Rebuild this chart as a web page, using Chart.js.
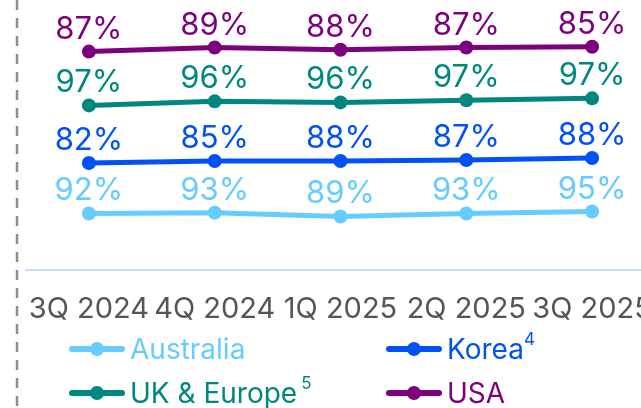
<!DOCTYPE html>
<html>
<head>
<meta charset="utf-8">
<script src="https://cdn.jsdelivr.net/npm/chart.js@4.4.1/dist/chart.umd.min.js"></script>
<style>
  html, body { margin: 0; padding: 0; background: #fff; }
  #wrap { position: relative; width: 641px; height: 408px; overflow: hidden; font-family: Inter, sans-serif; }
  #chart { position: absolute; left: 0; top: 0; }
  .item { position: absolute; display: flex; align-items: center; font-size: 28px; white-space: nowrap; }
  .mark { position: relative; width: 56px; height: 6px; border-radius: 3px; margin-right: 5px; }
  .mark::after { content: ""; position: absolute; left: 21px; top: -4px; width: 14px; height: 14px; border-radius: 50%; background: inherit; }
  sup { font-size: 17px; position: relative; top: -10px; vertical-align: baseline; }
</style>
</head>
<body>
<div id="wrap">
  <canvas id="chart" width="690" height="408"></canvas>
  <div class="item" style="left:69px; top:332px; color:#66ccff"><span class="mark" style="background:#66ccff"></span>Australia</div>
  <div class="item" style="left:386px; top:332px; color:#0052f5"><span class="mark" style="background:#0052f5"></span>Korea<sup>4</sup></div>
  <div class="item" style="left:69px; top:376px; color:#00877f"><span class="mark" style="background:#00877f"></span>UK &amp; Europe<sup style="margin-left:4px">5</sup></div>
  <div class="item" style="left:386px; top:376px; color:#7d007d"><span class="mark" style="background:#7d007d"></span>USA</div>
</div>
<script>
// Quarters on the x axis
const quarters = ['3Q 2024', '4Q 2024', '1Q 2025', '2Q 2025', '3Q 2025'];

// Label values (percent) shown above each point
const australiaPct = [92, 93, 89, 93, 95];
const koreaPct = [82, 85, 88, 87, 88];
const ukEuropePct = [97, 96, 96, 97, 97];
const usaPct = [87, 89, 88, 87, 85];

// Plotted level of each line (0-100 index, as drawn in the picture)
const australiaLevel = [21.0, 21.3, 19.9, 21.0, 21.7];
const koreaLevel = [39.7, 40.4, 40.4, 40.8, 41.5];
const ukEuropeLevel = [61.0, 62.5, 62.1, 62.9, 63.6];
const usaLevel = [80.9, 82.4, 81.6, 82.4, 82.7];

function series(name, level, pct, color) {
  return {
    label: name,
    data: level,
    pct: pct,
    borderColor: color,
    backgroundColor: color,
    pointBackgroundColor: color,
    pointBorderWidth: 0,
    pointRadius: 7,
    borderWidth: 5,
    tension: 0
  };
}

// vertical dashed divider on the left
const divider = {
  id: 'divider',
  beforeDraw(chart) {
    const c = chart.ctx;
    c.save();
    c.strokeStyle = '#8c8c8c';
    c.lineWidth = 2.5;
    c.setLineDash([10, 8]);
    c.beginPath();
    c.moveTo(17, 0);
    c.lineTo(17, chart.height);
    c.stroke();
    c.restore();
  }
};

// percent labels above points
const pctLabels = {
  id: 'pctLabels',
  afterDatasetsDraw(chart) {
    const c = chart.ctx;
    c.save();
    c.font = '31px Inter';
    c.textAlign = 'center';
    c.textBaseline = 'alphabetic';
    chart.data.datasets.forEach((ds, i) => {
      chart.getDatasetMeta(i).data.forEach((pt, j) => {
        c.fillStyle = ds.borderColor;
        c.fillText(ds.pct[j] + '%', pt.x, pt.y - 13);
      });
    });
    c.restore();
  }
};

new Chart(document.getElementById('chart'), {
  type: 'line',
  data: {
    labels: quarters,
    datasets: [
      series('Australia', australiaLevel, australiaPct, '#66ccff'),
      series('Korea', koreaLevel, koreaPct, '#0052f5'),
      series('UK & Europe', ukEuropeLevel, ukEuropePct, '#00877f'),
      series('USA', usaLevel, usaPct, '#7d007d')
    ]
  },
  options: {
    responsive: false,
    animation: false,
    layout: { autoPadding: false, padding: { left: 26, right: 35, top: 0, bottom: 67 } },
    plugins: { legend: { display: false }, tooltip: { enabled: false } },
    scales: {
      x: {
        offset: true,
        grid: { display: false },
        border: { color: '#ccd9ff', width: 2 },
        ticks: { color: '#555555', font: { family: 'Inter', size: 29 }, padding: 14, maxRotation: 0, autoSkip: false }
      },
      y: { display: false, min: 0, max: 100 }
    }
  },
  plugins: [divider, pctLabels]
});
</script>
</body>
</html>
